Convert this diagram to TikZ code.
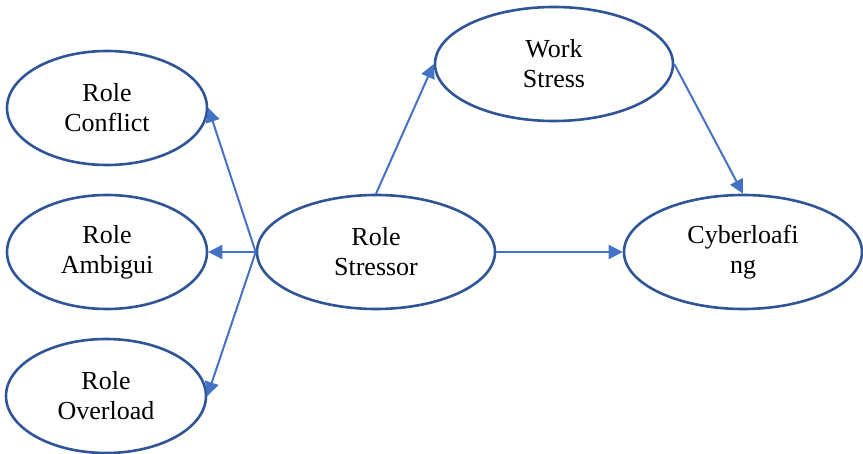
\documentclass[tikz,border=0pt]{standalone}
\usepackage{fontspec}
\setmainfont{Liberation Serif}
\usetikzlibrary{shapes.geometric,arrows.meta}
\definecolor{ringblue}{HTML}{2F5597}
\definecolor{arrowblue}{HTML}{4472C4}
\begin{document}
\begin{tikzpicture}[x=0.5pt, y=-0.5pt,
  var/.style={shape=ellipse, draw=ringblue, line width=1.3pt, inner sep=0pt, minimum width=119pt, minimum height=57pt, align=center, font=\fontsize{13}{15}\selectfont},
  link/.style={-{Triangle[length=7pt,width=7pt]}, line width=1pt, color=arrowblue}]
\useasboundingbox (0,0) rectangle (863,454);
\node[var, minimum width=100pt] (conflict) at (107,108) {Role\\Conflict};
\node[var, minimum width=100pt] (ambig) at (107,252) {Role\\Ambigui};
\node[var, minimum width=100pt] (overload) at (106,396) {Role\\Overload};
\node[var] (stressor) at (376,252) {Role\\Stressor};
\node[var] (work) at (554,64) {Work\\Stress};
\node[var] (cyber) at (743,252) {Cyberloafi\\ng};
\draw [link] (stressor.west) -- (conflict.east);
\draw [link] (stressor.west) -- (ambig.east);
\draw [link] (stressor.west) -- (overload.east);
\draw [link] (stressor.north) -- (work.west);
\draw [link] (work.east) -- (cyber.north);
\draw [link] (stressor.east) -- (cyber.west);
\end{tikzpicture}
\end{document}
